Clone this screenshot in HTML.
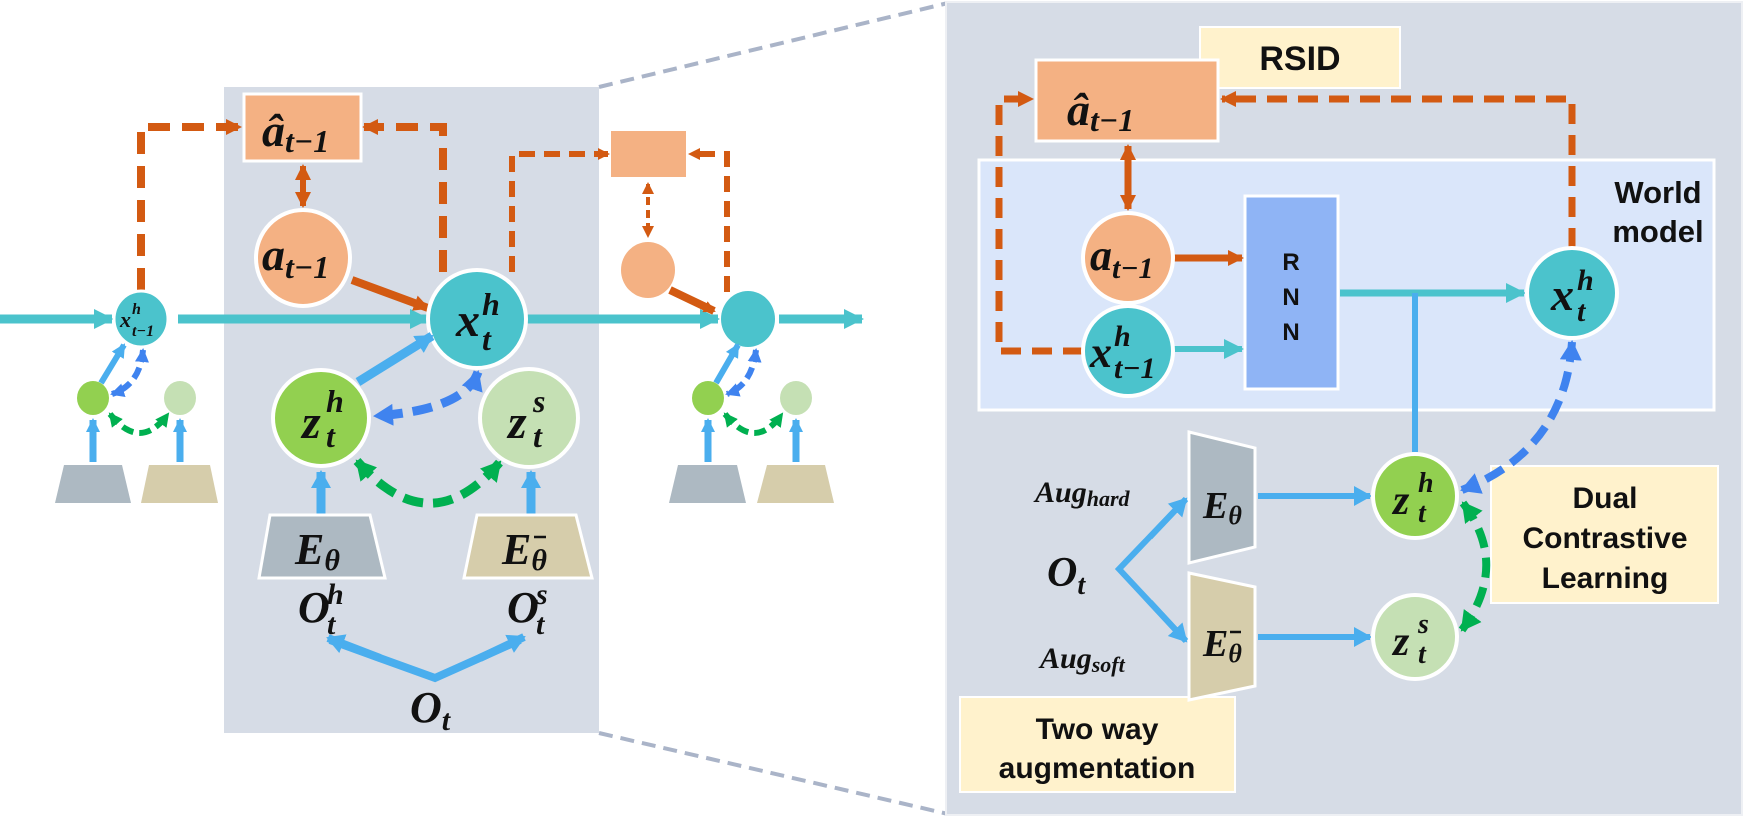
<!DOCTYPE html>
<html><head><meta charset="utf-8"><style>
html,body{margin:0;padding:0;background:#fff;}
svg{display:block;}
.m{font-family:"Liberation Serif",serif;font-weight:bold;font-style:italic;fill:#111;}
.s{font-family:"Liberation Sans",sans-serif;font-weight:bold;fill:#111;}
</style></head><body>
<svg width="1744" height="819" viewBox="0 0 1744 819" xmlns="http://www.w3.org/2000/svg">
<defs>
<marker id="ao" markerUnits="userSpaceOnUse" markerWidth="20" markerHeight="20" refX="14" refY="10" orient="auto-start-reverse"><path d="M0,2 L16,10 L0,18 Z" fill="#d35a12"/></marker>
<marker id="aos" markerUnits="userSpaceOnUse" markerWidth="14" markerHeight="14" refX="10" refY="7" orient="auto-start-reverse"><path d="M0,1 L12,7 L0,13 Z" fill="#d35a12"/></marker>
<marker id="at" markerUnits="userSpaceOnUse" markerWidth="24" markerHeight="24" refX="18" refY="12" orient="auto"><path d="M0,2 L20,12 L0,22 Z" fill="#4bc3cc"/></marker>
<marker id="ab" markerUnits="userSpaceOnUse" markerWidth="24" markerHeight="24" refX="16" refY="12" orient="auto"><path d="M0,2 L18,12 L0,22 Z" fill="#4aaeee"/></marker>
<marker id="abs" markerUnits="userSpaceOnUse" markerWidth="16" markerHeight="16" refX="12" refY="8" orient="auto"><path d="M0,1 L14,8 L0,15 Z" fill="#4aaeee"/></marker>
<marker id="ad" markerUnits="userSpaceOnUse" markerWidth="26" markerHeight="26" refX="18" refY="13" orient="auto-start-reverse"><path d="M0,2 L20,13 L0,24 Z" fill="#3f83ef"/></marker>
<marker id="ads" markerUnits="userSpaceOnUse" markerWidth="16" markerHeight="16" refX="12" refY="8" orient="auto-start-reverse"><path d="M0,1 L14,8 L0,15 Z" fill="#3f83ef"/></marker>
<marker id="ag" markerUnits="userSpaceOnUse" markerWidth="26" markerHeight="26" refX="18" refY="13" orient="auto-start-reverse"><path d="M0,2 L20,13 L0,24 Z" fill="#00b050"/></marker>
<marker id="ags" markerUnits="userSpaceOnUse" markerWidth="16" markerHeight="16" refX="12" refY="8" orient="auto-start-reverse"><path d="M0,1 L14,8 L0,15 Z" fill="#00b050"/></marker>
</defs>

<line x1="599" y1="87" x2="948" y2="3" stroke="#aab4c8" stroke-width="4" stroke-dasharray="14,8"/>
<line x1="599" y1="733" x2="948" y2="814" stroke="#aab4c8" stroke-width="4" stroke-dasharray="14,8"/>

<rect x="224" y="87" width="375" height="646" fill="#d6dce6"/>
<rect x="946" y="2" width="796" height="813" fill="#d6dce6" stroke="#eef0f4" stroke-width="2"/>

<!-- ===== LEFT ===== -->
<line x1="0" y1="319" x2="112" y2="319" stroke="#4bc3cc" stroke-width="9" marker-end="url(#at)"/>
<line x1="178" y1="319" x2="428" y2="319" stroke="#4bc3cc" stroke-width="9" marker-end="url(#at)"/>
<line x1="526" y1="319" x2="718" y2="319" stroke="#4bc3cc" stroke-width="9" marker-end="url(#at)"/>
<line x1="779" y1="319" x2="862" y2="319" stroke="#4bc3cc" stroke-width="9" marker-end="url(#at)"/>

<polyline points="141,290 141,127 240,127" fill="none" stroke="#d35a12" stroke-width="8" stroke-dasharray="22,12" marker-end="url(#ao)"/>
<polyline points="443,272 443,127 364,127" fill="none" stroke="#d35a12" stroke-width="8" stroke-dasharray="22,12" marker-end="url(#ao)"/>
<polyline points="512,272 512,154 608,154" fill="none" stroke="#d35a12" stroke-width="6" stroke-dasharray="16,9" marker-end="url(#aos)"/>
<polyline points="727,292 727,154 690,154" fill="none" stroke="#d35a12" stroke-width="6" stroke-dasharray="16,9" marker-end="url(#aos)"/>

<rect x="244" y="94" width="117" height="67" fill="#f4b183" stroke="#fff" stroke-width="3"/>
<text class="m" x="262" y="146" font-size="46">â<tspan font-size="32" dy="6">t−1</tspan></text>
<line x1="303" y1="166" x2="303" y2="206" stroke="#d35a12" stroke-width="6" marker-start="url(#ao)" marker-end="url(#ao)"/>
<ellipse cx="303" cy="258" rx="47" ry="48" fill="#f4b183" stroke="#fff" stroke-width="4"/>
<text class="m" x="262" y="270" font-size="46">a<tspan font-size="32" dy="8">t−1</tspan></text>
<line x1="352" y1="280" x2="428" y2="308" stroke="#d35a12" stroke-width="8" marker-end="url(#ao)"/>

<circle cx="477" cy="319" r="49" fill="#4bc3cc" stroke="#fff" stroke-width="4"/>
<text class="m" x="456" y="336" font-size="48">x</text>
<text class="m" x="482" y="315" font-size="32">h</text>
<text class="m" x="482" y="350" font-size="32">t</text>

<ellipse cx="141" cy="319" rx="27" ry="28" fill="#4bc3cc" stroke="#fff" stroke-width="3"/>
<text class="m" x="120" y="327" font-size="22">x</text>
<text class="m" x="132" y="314" font-size="16">h</text>
<text class="m" x="132" y="336" font-size="16">t−1</text>

<line x1="358" y1="382" x2="432" y2="336" stroke="#4aaeee" stroke-width="9" marker-end="url(#ab)"/>
<path d="M478,372 Q465,410 375,416" fill="none" stroke="#3f83ef" stroke-width="9" stroke-dasharray="20,10" marker-start="url(#ad)" marker-end="url(#ad)"/>
<path d="M357,461 Q430,545 500,462" fill="none" stroke="#00b050" stroke-width="9" stroke-dasharray="20,10" marker-start="url(#ag)" marker-end="url(#ag)"/>
<circle cx="321" cy="418" r="48" fill="#92d050" stroke="#fff" stroke-width="4"/>
<text class="m" x="302" y="438" font-size="48">z</text>
<text class="m" x="326" y="412" font-size="32">h</text>
<text class="m" x="326" y="447" font-size="32">t</text>
<circle cx="529" cy="418" r="49" fill="#c5e0b4" stroke="#fff" stroke-width="4"/>
<text class="m" x="508" y="438" font-size="48">z</text>
<text class="m" x="533" y="412" font-size="32">s</text>
<text class="m" x="533" y="447" font-size="32">t</text>

<line x1="321" y1="514" x2="321" y2="472" stroke="#4aaeee" stroke-width="9" marker-end="url(#ab)"/>
<line x1="531" y1="514" x2="531" y2="472" stroke="#4aaeee" stroke-width="9" marker-end="url(#ab)"/>

<polygon points="270,515 370,515 385,578 259,578" fill="#adb9c2" stroke="#fff" stroke-width="3"/>
<text class="m" x="295" y="564" font-size="44">E<tspan font-size="30" dy="6">θ</tspan></text>
<polygon points="477,515 576,515 592,578 464,578" fill="#d6cdab" stroke="#fff" stroke-width="3"/>
<text class="m" x="502" y="564" font-size="44">E<tspan font-size="30" dy="6">θ</tspan></text>
<line x1="534" y1="537" x2="546" y2="537" stroke="#111" stroke-width="2.5"/>

<text class="m" x="298" y="622" font-size="44">O</text>
<text class="m" x="327" y="604" font-size="30">h</text>
<text class="m" x="327" y="634" font-size="30">t</text>
<text class="m" x="507" y="622" font-size="44">O</text>
<text class="m" x="536" y="604" font-size="30">s</text>
<text class="m" x="536" y="634" font-size="30">t</text>
<polyline points="330,640 435,678 520,640" fill="none" stroke="#4aaeee" stroke-width="8"/>
<line x1="380" y1="658" x2="328" y2="638" stroke="#4aaeee" stroke-width="8" marker-end="url(#ab)"/>
<line x1="480" y1="658" x2="524" y2="637" stroke="#4aaeee" stroke-width="8" marker-end="url(#ab)"/>
<text class="m" x="410" y="722" font-size="44">O<tspan font-size="30" dy="8">t</tspan></text>

<line x1="101" y1="383" x2="124" y2="345" stroke="#4aaeee" stroke-width="6" marker-end="url(#abs)"/>
<path d="M143,350 Q140,385 112,394" fill="none" stroke="#3f83ef" stroke-width="6" stroke-dasharray="12,6" marker-start="url(#ads)" marker-end="url(#ads)"/>
<path d="M110,414 Q140,452 168,414" fill="none" stroke="#00b050" stroke-width="6" stroke-dasharray="12,6" marker-start="url(#ags)" marker-end="url(#ags)"/>
<ellipse cx="93" cy="398" rx="16" ry="17" fill="#92d050"/>
<ellipse cx="180" cy="398" rx="16" ry="17" fill="#c5e0b4"/>
<line x1="93" y1="462" x2="93" y2="420" stroke="#4aaeee" stroke-width="7" marker-end="url(#abs)"/>
<line x1="180" y1="462" x2="180" y2="420" stroke="#4aaeee" stroke-width="7" marker-end="url(#abs)"/>
<polygon points="64,465 122,465 131,503 55,503" fill="#adb9c2"/>
<polygon points="149,465 210,465 218,503 141,503" fill="#d6cdab"/>

<rect x="611" y="131" width="75" height="46" fill="#f4b183"/>
<line x1="648" y1="184" x2="648" y2="236" stroke="#d35a12" stroke-width="4" stroke-dasharray="8,5" marker-start="url(#aos)" marker-end="url(#aos)"/>
<ellipse cx="648" cy="270" rx="27" ry="28" fill="#f4b183"/>
<line x1="670" y1="290" x2="714" y2="311" stroke="#d35a12" stroke-width="8" marker-end="url(#aos)"/>
<ellipse cx="748" cy="319" rx="27" ry="28" fill="#4bc3cc"/>
<line x1="716" y1="383" x2="738" y2="345" stroke="#4aaeee" stroke-width="6" marker-end="url(#abs)"/>
<path d="M756,350 Q752,385 727,394" fill="none" stroke="#3f83ef" stroke-width="6" stroke-dasharray="12,6" marker-start="url(#ads)" marker-end="url(#ads)"/>
<path d="M725,414 Q755,452 782,414" fill="none" stroke="#00b050" stroke-width="6" stroke-dasharray="12,6" marker-start="url(#ags)" marker-end="url(#ags)"/>
<ellipse cx="708" cy="398" rx="16" ry="17" fill="#92d050"/>
<ellipse cx="796" cy="398" rx="16" ry="17" fill="#c5e0b4"/>
<line x1="708" y1="462" x2="708" y2="420" stroke="#4aaeee" stroke-width="7" marker-end="url(#abs)"/>
<line x1="796" y1="462" x2="796" y2="420" stroke="#4aaeee" stroke-width="7" marker-end="url(#abs)"/>
<polygon points="678,465 737,465 746,503 669,503" fill="#adb9c2"/>
<polygon points="767,465 825,465 834,503 757,503" fill="#d6cdab"/>

<!-- ===== RIGHT ===== -->
<rect x="1200" y="27" width="200" height="61" fill="#fff2cc" stroke="#fff" stroke-width="2"/>
<text class="s" x="1300" y="70" font-size="34" text-anchor="middle">RSID</text>

<rect x="979" y="160" width="735" height="250" fill="#dae6fa" stroke="#fff" stroke-width="3"/>
<text class="s" x="1658" y="203" font-size="31" text-anchor="middle">World</text>
<text class="s" x="1658" y="242" font-size="31" text-anchor="middle">model</text>

<polyline points="1083,351 999,351 999,99 1032,99" fill="none" stroke="#d35a12" stroke-width="7" stroke-dasharray="20,11" marker-end="url(#ao)"/>
<polyline points="1572,248 1572,99 1222,99" fill="none" stroke="#d35a12" stroke-width="7" stroke-dasharray="20,11" marker-end="url(#ao)"/>

<rect x="1036" y="60" width="182" height="81" fill="#f4b183" stroke="#fff" stroke-width="3"/>
<text class="m" x="1067" y="125" font-size="46">â<tspan font-size="32" dy="6">t−1</tspan></text>
<line x1="1128" y1="146" x2="1128" y2="209" stroke="#d35a12" stroke-width="7" marker-start="url(#ao)" marker-end="url(#ao)"/>

<rect x="1245" y="196" width="93" height="193" fill="#8fb4f5" stroke="#fff" stroke-width="3"/>
<text class="s" x="1291" y="270" font-size="24" text-anchor="middle">R</text>
<text class="s" x="1291" y="305" font-size="24" text-anchor="middle">N</text>
<text class="s" x="1291" y="340" font-size="24" text-anchor="middle">N</text>

<line x1="1173" y1="258" x2="1242" y2="258" stroke="#d35a12" stroke-width="7" marker-end="url(#ao)"/>
<line x1="1173" y1="349" x2="1242" y2="349" stroke="#4bc3cc" stroke-width="6" marker-end="url(#at)"/>
<line x1="1340" y1="293" x2="1524" y2="293" stroke="#4bc3cc" stroke-width="7" marker-end="url(#at)"/>
<line x1="1415" y1="293" x2="1415" y2="452" stroke="#4aaeee" stroke-width="6"/>

<circle cx="1128" cy="258" r="45" fill="#f4b183" stroke="#fff" stroke-width="4"/>
<text class="m" x="1090" y="270" font-size="44">a<tspan font-size="30" dy="8">t−1</tspan></text>
<circle cx="1128" cy="351" r="45" fill="#4bc3cc" stroke="#fff" stroke-width="4"/>
<text class="m" x="1090" y="367" font-size="44">x</text>
<text class="m" x="1114" y="346" font-size="30">h</text>
<text class="m" x="1114" y="378" font-size="30">t−1</text>
<circle cx="1572" cy="293" r="45" fill="#4bc3cc" stroke="#fff" stroke-width="4"/>
<text class="m" x="1551" y="310" font-size="46">x</text>
<text class="m" x="1577" y="290" font-size="30">h</text>
<text class="m" x="1577" y="321" font-size="30">t</text>

<rect x="1491" y="466" width="227" height="137" fill="#fff2cc" stroke="#fff" stroke-width="2"/>
<text class="s" x="1605" y="508" font-size="30" text-anchor="middle">Dual</text>
<text class="s" x="1605" y="548" font-size="30" text-anchor="middle">Contrastive</text>
<text class="s" x="1605" y="588" font-size="30" text-anchor="middle">Learning</text>

<rect x="960" y="697" width="275" height="95" fill="#fff2cc" stroke="#fff" stroke-width="2"/>
<text class="s" x="1097" y="739" font-size="30" text-anchor="middle">Two way</text>
<text class="s" x="1097" y="778" font-size="30" text-anchor="middle">augmentation</text>

<path d="M1572,342 Q1565,450 1462,490" fill="none" stroke="#3f83ef" stroke-width="8" stroke-dasharray="20,10" marker-start="url(#ad)" marker-end="url(#ad)"/>
<path d="M1463,503 Q1510,565 1462,630" fill="none" stroke="#00b050" stroke-width="8" stroke-dasharray="20,10" marker-start="url(#ag)" marker-end="url(#ag)"/>

<polygon points="1189,432 1255,448 1255,547 1189,563" fill="#adb9c2" stroke="#fff" stroke-width="3"/>
<text class="m" x="1203" y="518" font-size="38">E<tspan font-size="26" dy="6">θ</tspan></text>
<polygon points="1189,573 1255,587 1255,686 1189,700" fill="#d6cdab" stroke="#fff" stroke-width="3"/>
<text class="m" x="1203" y="656" font-size="38">E<tspan font-size="26" dy="6">θ</tspan></text>
<line x1="1230" y1="632" x2="1241" y2="632" stroke="#111" stroke-width="2.5"/>

<line x1="1258" y1="496" x2="1370" y2="496" stroke="#4aaeee" stroke-width="6" marker-end="url(#ab)"/>
<line x1="1258" y1="637" x2="1370" y2="637" stroke="#4aaeee" stroke-width="6" marker-end="url(#ab)"/>

<circle cx="1415" cy="496" r="42" fill="#92d050" stroke="#fff" stroke-width="4"/>
<text class="m" x="1393" y="514" font-size="42">z</text>
<text class="m" x="1418" y="492" font-size="28">h</text>
<text class="m" x="1418" y="522" font-size="28">t</text>
<circle cx="1415" cy="637" r="42" fill="#c5e0b4" stroke="#fff" stroke-width="4"/>
<text class="m" x="1393" y="655" font-size="42">z</text>
<text class="m" x="1418" y="633" font-size="28">s</text>
<text class="m" x="1418" y="663" font-size="28">t</text>

<polyline points="1185,500 1119,569 1185,640" fill="none" stroke="#4aaeee" stroke-width="6"/>
<line x1="1150" y1="537" x2="1186" y2="499" stroke="#4aaeee" stroke-width="6" marker-end="url(#ab)"/>
<line x1="1150" y1="602" x2="1186" y2="641" stroke="#4aaeee" stroke-width="6" marker-end="url(#ab)"/>

<text class="m" x="1047" y="586" font-size="42">O<tspan font-size="28" dy="8">t</tspan></text>
<text class="m" x="1035" y="502" font-size="30">Aug<tspan font-size="22" dy="4">hard</tspan></text>
<text class="m" x="1040" y="668" font-size="30">Aug<tspan font-size="22" dy="4">soft</tspan></text>
</svg>
</body></html>
